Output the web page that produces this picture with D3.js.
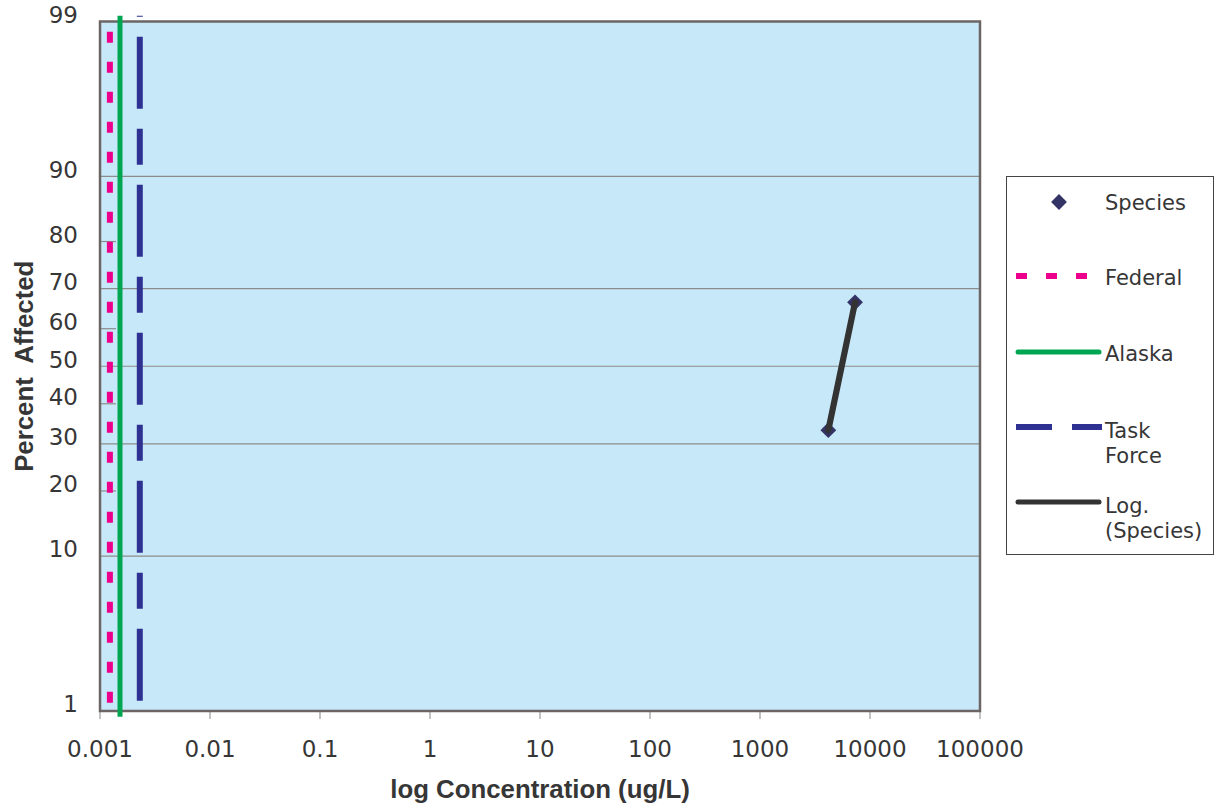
<!DOCTYPE html>
<html>
<head>
<meta charset="utf-8">
<script src="https://cdn.jsdelivr.net/npm/d3@7"></script>
<style>
  html, body { margin: 0; padding: 0; background: #ffffff; }
  svg { display: block; }
</style>
</head>
<body>
<svg id="chart" width="1225" height="810"></svg>
<script>
// Species sensitivity data: concentration (ug/L) vs percent affected
const speciesConc = [4180, 7310];
const speciesPct = [33.3, 66.7];

// Water quality criteria drawn as vertical reference lines (ug/L)
const federalConc = 0.00123;
const alaskaConc = 0.00152;
const taskForceConc = 0.0023;
const criteriaSpan = [0.9, 99.1];

// Axis ticks
const xTicks = [0.001, 0.01, 0.1, 1, 10, 100, 1000, 10000, 100000];
const xTickLabels = ["0.001", "0.01", "0.1", "1", "10", "100", "1000", "10000", "100000"];
const yTicks = [1, 10, 20, 30, 40, 50, 60, 70, 80, 90, 99];
const yGridValues = [10, 30, 50, 70, 90];
const yMinorValues = [20, 40, 60, 80];

const legendLabels = [["Species"], ["Federal"], ["Alaska"], ["Task", "Force"], ["Log.", "(Species)"]];

// Inverse standard normal CDF (Acklam's rational approximation)
function probit(p) {
  const a = [-3.969683028665376e+01, 2.209460984245205e+02, -2.759285104469687e+02,
             1.383577518672690e+02, -3.066479806614716e+01, 2.506628277459239e+00];
  const b = [-5.447609879822406e+01, 1.615858368580409e+02, -1.556989798598866e+02,
             6.680131188771972e+01, -1.328068155288572e+01];
  const c = [-7.784894002430293e-03, -3.223964580411365e-01, -2.400758277161838e+00,
             -2.549732539343734e+00, 4.374664141464968e+00, 2.938163982698783e+00];
  const d = [7.784695709041462e-03, 3.224671290700398e-01, 2.445134137142996e+00,
             3.754408661907416e+00];
  const pl = 0.02425, ph = 1 - pl;
  let q, r;
  if (p < pl) {
    q = Math.sqrt(-2 * Math.log(p));
    return (((((c[0]*q+c[1])*q+c[2])*q+c[3])*q+c[4])*q+c[5]) /
           ((((d[0]*q+d[1])*q+d[2])*q+d[3])*q+1);
  }
  if (p <= ph) {
    q = p - 0.5; r = q * q;
    return (((((a[0]*r+a[1])*r+a[2])*r+a[3])*r+a[4])*r+a[5])*q /
           (((((b[0]*r+b[1])*r+b[2])*r+b[3])*r+b[4])*r+1);
  }
  q = Math.sqrt(-2 * Math.log(1 - p));
  return -(((((c[0]*q+c[1])*q+c[2])*q+c[3])*q+c[4])*q+c[5]) /
          ((((d[0]*q+d[1])*q+d[2])*q+d[3])*q+1);
}

const plot = { left: 100, right: 980, top: 21.5, bottom: 711 };

const x = d3.scaleLog().domain([0.001, 100000]).range([plot.left, plot.right]);
const yLin = d3.scaleLinear()
  .domain([probit(0.01), probit(0.99)])
  .range([plot.bottom, plot.top]);
const y = pct => yLin(probit(pct / 100));

const svg = d3.select("#chart");
const textColor = "#363636";
const numFont = "'DejaVu Sans', Verdana, sans-serif";
const titleFont = "'Liberation Sans', Arial, sans-serif";

// Plot background
svg.append("rect")
  .attr("x", plot.left).attr("y", plot.top)
  .attr("width", plot.right - plot.left).attr("height", plot.bottom - plot.top)
  .attr("fill", "#c7e8f8");

// Horizontal gridlines
svg.append("g").selectAll("line").data(yGridValues).join("line")
  .attr("x1", plot.left).attr("x2", plot.right)
  .attr("y1", d => y(d)).attr("y2", d => y(d))
  .attr("stroke", "#8c8c8c").attr("stroke-width", 1.2);

// Short inner ticks between gridlines
svg.append("g").selectAll("line").data(yMinorValues).join("line")
  .attr("x1", plot.left).attr("x2", plot.left + 16)
  .attr("y1", d => y(d)).attr("y2", d => y(d))
  .attr("stroke", "#8c8c8c").attr("stroke-width", 1.2);

// Bottom axis ticks
svg.append("g").selectAll("line").data(xTicks).join("line")
  .attr("x1", d => x(d)).attr("x2", d => x(d))
  .attr("y1", plot.bottom).attr("y2", plot.bottom + 8)
  .attr("stroke", "#9a9a9a").attr("stroke-width", 1.2);

// Plot frame
svg.append("rect")
  .attr("x", plot.left).attr("y", plot.top)
  .attr("width", plot.right - plot.left).attr("height", plot.bottom - plot.top)
  .attr("fill", "none").attr("stroke", "#6b6664").attr("stroke-width", 2.5);

// X tick labels
svg.append("g").selectAll("text").data(xTicks).join("text")
  .attr("x", d => x(d)).attr("y", 757)
  .attr("text-anchor", "middle")
  .attr("font-family", numFont).attr("font-size", 23)
  .attr("fill", textColor)
  .text((d, i) => xTickLabels[i]);

// Y tick labels
svg.append("g").selectAll("text").data(yTicks).join("text")
  .attr("x", 78).attr("y", d => y(d) - 7)
  .attr("dy", "0.36em")
  .attr("text-anchor", "end")
  .attr("font-family", numFont).attr("font-size", 23)
  .attr("fill", textColor)
  .text(d => d);

// Axis titles
svg.append("text")
  .attr("x", 540).attr("y", 798)
  .attr("text-anchor", "middle")
  .attr("font-family", titleFont).attr("font-weight", "bold").attr("font-size", 25.8)
  .attr("fill", textColor)
  .text("log Concentration (ug/L)");

svg.append("text")
  .attr("transform", `translate(33,${y(50)}) rotate(-90)`)
  .attr("text-anchor", "middle")
  .attr("font-family", titleFont).attr("font-weight", "bold").attr("font-size", 25.8)
  .attr("fill", textColor)
  .style("white-space", "pre")
  .text("Percent  Affected");

// Criteria reference lines
const vline = (conc, color, width, dash, offset) => {
  const l = svg.append("line")
    .attr("x1", x(conc)).attr("x2", x(conc))
    .attr("y1", y(criteriaSpan[1])).attr("y2", y(criteriaSpan[0]))
    .attr("stroke", color).attr("stroke-width", width);
  if (dash) l.attr("stroke-dasharray", dash).attr("stroke-dashoffset", offset);
};
vline(federalConc, "#ec008c", 6, "11,19", 14);
vline(alaskaConc, "#00a651", 5, null, 0);
vline(taskForceConc, "#2e3192", 6, "36,20,72,20", 35);

// Species points
const pts = speciesConc.map((c, i) => [x(c), y(speciesPct[i])]);
const diamond = d3.symbol().type(d3.symbolSquare).size(125);
svg.append("g").selectAll("path").data(pts).join("path")
  .attr("d", diamond)
  .attr("transform", d => `translate(${d[0]},${d[1]}) rotate(45)`)
  .attr("fill", "#333366");

// Logarithmic trendline through the species points
svg.append("path")
  .attr("d", d3.line()(pts))
  .attr("fill", "none").attr("stroke", "#333333")
  .attr("stroke-width", 6.2).attr("stroke-linecap", "round");

// Legend
const lg = svg.append("g");
lg.append("rect")
  .attr("x", 1006.5).attr("y", 176.5).attr("width", 207).attr("height", 378)
  .attr("fill", "#ffffff").attr("stroke", "#444444").attr("stroke-width", 1);

const rowY = [202, 277, 353, 430, 505];
lg.append("path")
  .attr("d", d3.symbol().type(d3.symbolSquare).size(125)())
  .attr("transform", `translate(1059,${rowY[0]}) rotate(45)`)
  .attr("fill", "#333366");
lg.append("line").attr("x1", 1016).attr("x2", 1090).attr("y1", 276).attr("y2", 276)
  .attr("stroke", "#ec008c").attr("stroke-width", 6).attr("stroke-dasharray", "11,19");
lg.append("line").attr("x1", 1018).attr("x2", 1099).attr("y1", 352).attr("y2", 352)
  .attr("stroke", "#00a651").attr("stroke-width", 5).attr("stroke-linecap", "round");
lg.append("line").attr("x1", 1016).attr("x2", 1102).attr("y1", 427).attr("y2", 427)
  .attr("stroke", "#2e3192").attr("stroke-width", 6).attr("stroke-dasharray", "36,20");
lg.append("line").attr("x1", 1018).attr("x2", 1099).attr("y1", 502).attr("y2", 502)
  .attr("stroke", "#333333").attr("stroke-width", 5).attr("stroke-linecap", "round");

legendLabels.forEach((lines, i) => {
  const t = lg.append("text")
    .attr("x", 1105).attr("y", rowY[i])
    .attr("font-family", numFont).attr("font-size", 21)
    .attr("fill", textColor);
  lines.forEach((s, j) => {
    t.append("tspan").attr("x", 1105).attr("dy", j === 0 ? "0.36em" : 25).text(s);
  });
});
</script>
</body>
</html>
